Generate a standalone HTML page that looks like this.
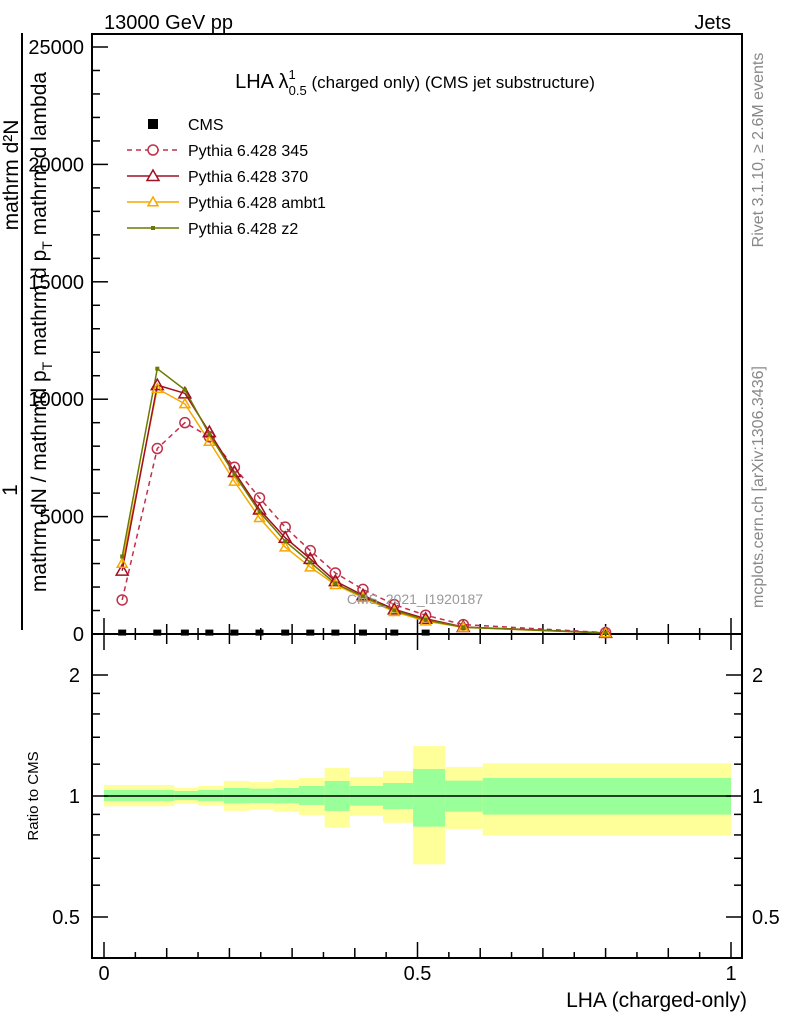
<!DOCTYPE html>
<html><head><meta charset="utf-8"><style>
html,body{margin:0;padding:0;background:#fff;}
svg{display:block;font-family:"Liberation Sans",sans-serif;}
</style></head><body>
<svg id="chart" width="786" height="1024" viewBox="0 0 786 1024">
<text x="104" y="29" font-size="20">13000 GeV pp</text>
<text x="731" y="29" font-size="20" text-anchor="end">Jets</text>
<rect x="92" y="34" width="650" height="600" fill="none" stroke="#000" stroke-width="2"/>
<rect x="92" y="634" width="650" height="324" fill="none" stroke="#000" stroke-width="2"/>
<g id="bands"></g>
<g id="axes"></g>
<g id="series"></g>
<text x="415" y="88" font-size="20" text-anchor="middle">LHA λ<tspan font-size="13" dy="-9">1</tspan><tspan font-size="13" dx="-7" dy="16">0.5</tspan><tspan font-size="17" dy="-7"> (charged only) (CMS jet substructure)</tspan></text>
<text x="415" y="604" font-size="14" fill="#999" text-anchor="middle">CMS_2021_I1920187</text>
<g id="legend"></g>
<text transform="translate(763,150) rotate(-90)" font-size="16" fill="#888" text-anchor="middle">Rivet 3.1.10, ≥ 2.6M events</text>
<text transform="translate(763,487) rotate(-90)" font-size="16" fill="#888" text-anchor="middle">mcplots.cern.ch [arXiv:1306.3436]</text>
<line x1="22" y1="33" x2="22" y2="630" stroke="#000" stroke-width="2"/>
<text transform="translate(18,175) rotate(-90)" font-size="21" text-anchor="middle">mathrm d²N</text>
<text transform="translate(17,490) rotate(-90)" font-size="21" text-anchor="middle">1</text>
<text transform="translate(46,332) rotate(-90)" font-size="21" text-anchor="middle">mathrm dN / mathrmd p<tspan font-size="14" dy="6">T</tspan><tspan dy="-6"> mathrm d p</tspan><tspan font-size="14" dy="6">T</tspan><tspan dy="-6"> mathrm d lambda</tspan></text>
<text transform="translate(38,796) rotate(-90)" font-size="15" text-anchor="middle">Ratio to CMS</text>
<text x="747" y="1007" font-size="21" text-anchor="end">LHA (charged-only)</text>
</svg>
<script>
const xCenters=[0.029,0.085,0.129,0.168,0.208,0.248,0.289,0.329,0.369,0.413,0.463,0.513,0.573,0.8];
const cmsX=[0.029,0.085,0.129,0.168,0.208,0.248,0.289,0.329,0.369,0.413,0.463,0.513];
const cmsY=[60,60,60,60,60,60,60,60,60,60,60,60];
const y345=[1450,7900,9000,8400,7100,5800,4550,3550,2600,1900,1250,800,400,60];
const y370=[2700,10600,10250,8600,6900,5300,4100,3200,2250,1650,1050,650,300,50];
const yAmbt1=[3000,10450,9800,8200,6500,4950,3700,2850,2100,1550,950,550,280,40];
const yZ2=[3300,11300,10400,8500,6800,5200,3950,3050,2150,1600,1000,600,290,45];
const binEdges=[0,0.112,0.150,0.191,0.232,0.271,0.311,0.352,0.392,0.445,0.493,0.544,0.604,1.0];
const yelHi=[1.065,1.047,1.059,1.090,1.083,1.096,1.109,1.174,1.115,1.154,1.331,1.181,1.206];
const grnHi=[1.035,1.029,1.035,1.047,1.043,1.047,1.059,1.090,1.059,1.077,1.167,1.092,1.109];
const grnLo=[0.972,0.977,0.972,0.959,0.961,0.959,0.950,0.918,0.946,0.928,0.839,0.914,0.899];
const yelLo=[0.943,0.957,0.946,0.919,0.925,0.914,0.897,0.834,0.893,0.858,0.676,0.828,0.797];
const yTicks=[0,5000,10000,15000,20000,25000];
const rTicks=[0.5,1,2];
const xTicks=[0,0.5,1];

const NS="http://www.w3.org/2000/svg";
const X=v=>104+627*v;
const Y=v=>634-v*23.48/1000;
const R=v=>796-121*Math.log2(v);
function mk(parent,tag,attrs){const e=document.createElementNS(NS,tag);for(const k in attrs)e.setAttribute(k,attrs[k]);document.getElementById(parent).appendChild(e);return e;}

for(let i=0;i<binEdges.length-1;i++){
 const x0=X(binEdges[i]),w=X(binEdges[i+1])-x0;
 let e=mk('bands','rect',{x:x0,y:R(yelHi[i]),width:w,height:R(yelLo[i])-R(yelHi[i]),fill:'#ffff99'});
 
 
 e=mk('bands','rect',{x:x0,y:R(grnHi[i]),width:w,height:R(grnLo[i])-R(grnHi[i]),fill:'#99ff99'});
 
 
}
let ln=mk('bands','line',{x1:X(0),x2:X(1),y1:R(1),y2:R(1),stroke:'#000','stroke-width':1.5});



for(let v=0;v<=25000;v+=1000){const big=v%5000===0;
 const t=mk('axes','line',{x1:92,x2:92+(big?16:8),y1:Y(v),y2:Y(v),stroke:'#000','stroke-width':1.5});
 
 }
yTicks.forEach(v=>{const t=mk('axes','text',{x:84,y:Y(v)+7,'font-size':20,'text-anchor':'end'});t.textContent=v;
 
 });
[0.5,0.6,0.7,0.8,0.9,1,1.2,1.4,1.6,1.8,2].forEach(v=>{const big=rTicks.includes(v);
 [[92,1],[742,-1]].forEach(([x,d])=>{const t=mk('axes','line',{x1:x,x2:x+d*(big?16:8),y1:R(v),y2:R(v),stroke:'#000','stroke-width':1.5});
 
 });});
rTicks.forEach(v=>{let t=mk('axes','text',{x:80,y:R(v)+7,'font-size':20,'text-anchor':'end'});t.textContent=v;
 
 
 t=mk('axes','text',{x:752,y:R(v)+7,'font-size':20});t.textContent=v;
 
 });
for(let k=0;k<=20;k++){const v=k*0.05;const h=k%10===0?16:(k%2===0?10:6);
 [[634,-1],[634,1],[958,-1]].forEach(([y,d])=>{const t=mk('axes','line',{x1:X(v),x2:X(v),y1:y,y2:y+d*h,stroke:'#000','stroke-width':1.5});
 
 });}
xTicks.forEach(v=>{const t=mk('axes','text',{x:X(v),y:980,'font-size':20,'text-anchor':'middle'});t.textContent=v;
 
 });

function line(ys,color,dash,name){const pts=xCenters.map((x,i)=>X(x)+','+Y(ys[i])).join(' ');
 const p=mk('series','polyline',{points:pts,fill:'none',stroke:color,'stroke-width':1.5,'stroke-dasharray':dash||'none'});
 
 }
function tri(x,y,s){return `${x},${y-s} ${x-s},${y+s*0.75} ${x+s},${y+s*0.75}`;}
line(y345,'#c0304a','5,4','line-pythia-345');
line(yAmbt1,'#f5a800','','line-pythia-ambt1');
line(y370,'#a01020','','line-pythia-370');
line(yZ2,'#6b7a00','','line-pythia-z2');
xCenters.forEach((x,i)=>{
 let m=mk('series','circle',{cx:X(x),cy:Y(y345[i]),r:5,fill:'none',stroke:'#c0304a','stroke-width':1.5});
 
 
 m=mk('series','polygon',{points:tri(X(x),Y(y370[i]),6),fill:'none',stroke:'#a01020','stroke-width':1.5});
 
 
 m=mk('series','polygon',{points:tri(X(x),Y(yAmbt1[i]),5),fill:'none',stroke:'#f5a800','stroke-width':1.5});
 
 
 m=mk('series','rect',{x:X(x)-2,y:Y(yZ2[i])-2,width:4,height:4,fill:'#6b7a00'});
 
 
});
cmsX.forEach((x,i)=>{const m=mk('series','rect',{x:X(x)-4,y:Y(cmsY[i])-3,width:8,height:6,fill:'#000'});
 
 });

const items=[['CMS','cms'],['Pythia 6.428 345','345'],['Pythia 6.428 370','370'],['Pythia 6.428 ambt1','ambt1'],['Pythia 6.428 z2','z2']];
items.forEach(([label,k],i)=>{const y=124+i*26,cx=153;
 if(k==='cms'){const m=mk('legend','rect',{x:cx-5,y:y-5,width:10,height:10,fill:'#000'});}
 else{const col={345:'#c0304a',370:'#a01020',ambt1:'#f5a800',z2:'#6b7a00'}[k];
  const l=mk('legend','line',{x1:127,x2:179,y1:y,y2:y,stroke:col,'stroke-width':1.5,'stroke-dasharray':k==='345'?'5,4':'none'});
  
  
  let m;
  if(k==='345')m=mk('legend','circle',{cx:cx,cy:y,r:5,fill:'#fff',stroke:col,'stroke-width':1.5});
  else if(k==='z2')m=mk('legend','rect',{x:cx-2,y:y-2,width:4,height:4,fill:col});
  else m=mk('legend','polygon',{points:tri(cx,y,k==='370'?6:5),fill:'#fff',stroke:col,'stroke-width':1.5});
  
  }
 const t=mk('legend','text',{x:188,y:y+6,'font-size':16});t.textContent=label;
 
 
});
</script>
</body></html>
